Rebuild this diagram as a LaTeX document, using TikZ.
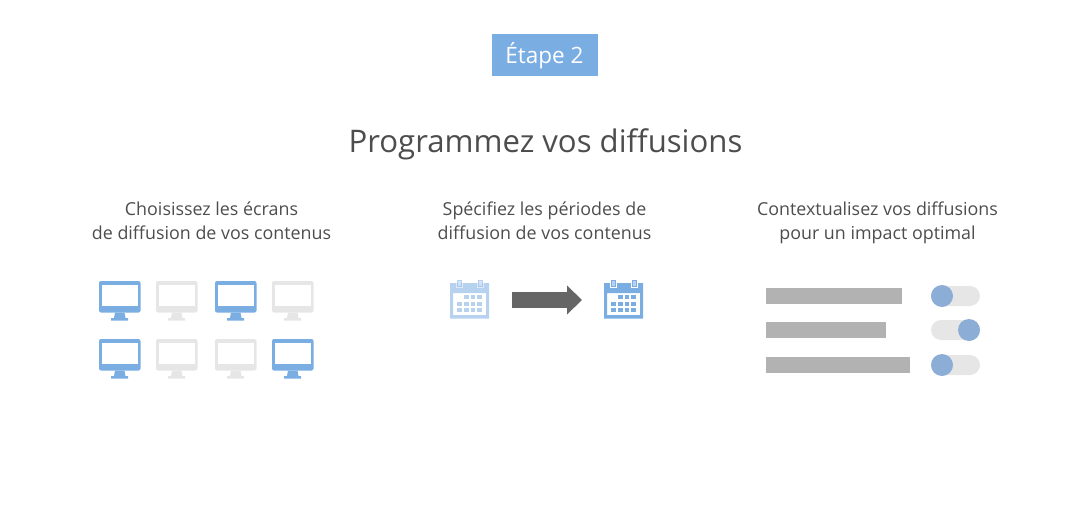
\documentclass[tikz,border=0pt]{standalone}
\usepackage{fontspec}
\setmainfont{Open Sans}
\usetikzlibrary{arrows.meta}
\definecolor{monblue}{HTML}{7AADE2}
\definecolor{offgray}{HTML}{E6E6E6}
\definecolor{bargray}{HTML}{B2B2B2}
\definecolor{knobblue}{HTML}{8CADD6}
\definecolor{arrowgray}{HTML}{666666}
\definecolor{textgray}{HTML}{4D4D4D}
\begin{document}
\begin{tikzpicture}[x=0.75pt,y=-0.75pt]
\tikzset{badge/.style = {fill=monblue,text=white,minimum width=79.5pt,minimum height=31.5pt,inner sep=0,font=\fontsize{16.9}{20}\selectfont}}
\tikzset{title/.style = {text=textgray,font=\fontsize{23.35}{28}\selectfont}}
\tikzset{subtitle/.style = {text=textgray,align=center,font=\fontsize{13.4}{18}\selectfont}}
\tikzset{textbar/.style = {fill=bargray}}
\tikzset{track/.style = {fill=offgray,rounded corners=7.5pt}}
\tikzset{knob/.style = {fill=knobblue}}
\tikzset{holder/.style = {inner sep=0,minimum width=30pt,minimum height=28pt}}
\tikzset{edge/.style = {-{Triangle[length=11.25pt,width=21pt]},arrowgray,line width=12pt}}
\tikzset{monitor/.pic = {
  \fill[pic actions,rounded corners=1.5pt] (0,0) rectangle (41.5,31.5);
  \fill[white] (2.5,4) rectangle (39,25);
  \fill[pic actions] (16,31.5) -- (25.5,31.5) -- (26.5,37) -- (29,37) -- (29,39.7) -- (12,39.7) -- (12,37) -- (15,37) -- cycle;
}}
\tikzset{calendar/.pic = {
  \fill[pic actions,even odd rule] (-19.5,-16) rectangle (19.5,19.5) (-16.5,-6) rectangle (16.5,16);
  \fill[white] (-13.5,-16) rectangle (-7,-11);
  \fill[white] (7.5,-16) rectangle (14,-11);
  \fill[pic actions] (-12.5,-19) rectangle (-8,-12);
  \fill[pic actions] (8.5,-19) rectangle (13,-12);
  \fill[white,opacity=0.45] (-11.5,-18) rectangle (-9,-13);
  \fill[white,opacity=0.45] (9.5,-18) rectangle (12,-13);
  \foreach \col/\row in {1/0,2/0,3/0,0/1,1/1,2/1,3/1,0/2,1/2,2/2,3/2}
    \fill[pic actions] ({-12.2+\col*6.67},{-3.7+\row*6.5}) rectangle ++(4.6,4);
}}
\useasboundingbox (0,0) rectangle (1090,511);
% heading
\node[badge] (step) at (544.5,55.3) {Étape 2};
\node[title] (head) at (545.5,144) {Programmez vos diffusions};
\node[subtitle] (left) at (211.5,220.5) {Choisissez les écrans\\de diffusion de vos contenus};
\node[subtitle] (mid) at (544.5,220.5) {Spécifiez les périodes de\\diffusion de vos contenus};
\node[subtitle] (right) at (877.5,222.5) {Contextualisez vos diffusions\\pour un impact optimal};
% screens
\foreach \xpos/\ypos/\shade in {99/281/monblue,156/281/offgray,215/281/monblue,272/281/offgray,
  99/339/monblue,156/339/offgray,215/339/offgray,272/339/monblue}
  \pic[fill=\shade] at (\xpos,\ypos) {monitor};
% calendars
\node[holder] (cala) at (469.5,299) {};
\node[holder] (calb) at (623.5,299) {};
\pic[fill=monblue,fill opacity=0.55] at (cala) {calendar};
\pic[fill=monblue] at (calb) {calendar};
\draw[edge,shorten <=31.9pt,shorten >=31.1pt] ([yshift=-0.75pt]cala.center) -- ([yshift=-0.75pt]calb.center);
% toggles
\fill[textbar] (766,288) rectangle (902,304);
\fill[textbar] (766,322) rectangle (886,338);
\fill[textbar] (766,357) rectangle (910,373);
\fill[track] (931,286) rectangle (980,306);
\fill[track] (931,320) rectangle (980,340);
\fill[track] (931,355) rectangle (980,375);
\fill[knob] (942,296) circle [radius=8.25pt];
\fill[knob] (969,330) circle [radius=8.25pt];
\fill[knob] (942,365) circle [radius=8.25pt];
\end{tikzpicture}
\end{document}
